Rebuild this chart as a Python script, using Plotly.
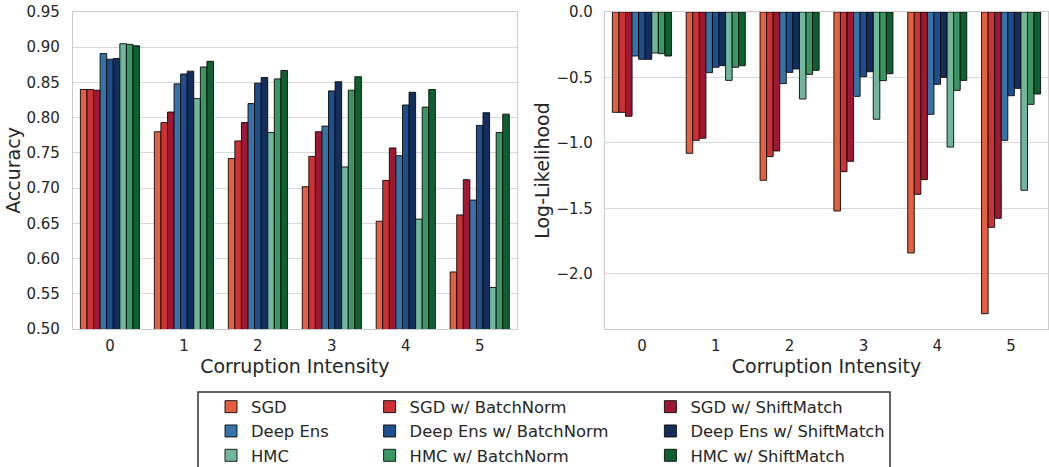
import plotly.graph_objects as go

intensities = [0, 1, 2, 3, 4, 5]
tick_labels = ["0", "1", "2", "3", "4", "5"]

methods = ["SGD", "SGD w/ BatchNorm", "SGD w/ ShiftMatch",
           "Deep Ens", "Deep Ens w/ BatchNorm", "Deep Ens w/ ShiftMatch",
           "HMC", "HMC w/ BatchNorm", "HMC w/ ShiftMatch"]
colors = ["#e5603f", "#cc3235", "#9f1733",
          "#3673a8", "#1e4e8b", "#132d5c",
          "#71b79c", "#3b9664", "#0d6131"]

# Accuracy per method, intensities 0..5
acc_sgd = [0.840, 0.780, 0.742, 0.702, 0.653, 0.581]
acc_sgd_bn = [0.840, 0.793, 0.767, 0.745, 0.711, 0.662]
acc_sgd_sm = [0.839, 0.808, 0.793, 0.780, 0.757, 0.712]
acc_de = [0.891, 0.848, 0.820, 0.788, 0.746, 0.683]
acc_de_bn = [0.883, 0.862, 0.849, 0.838, 0.818, 0.789]
acc_de_sm = [0.884, 0.866, 0.857, 0.851, 0.836, 0.807]
acc_hmc = [0.905, 0.827, 0.779, 0.730, 0.656, 0.559]
acc_hmc_bn = [0.904, 0.872, 0.855, 0.839, 0.815, 0.779]
acc_hmc_sm = [0.902, 0.880, 0.867, 0.858, 0.840, 0.805]

# Log-likelihood per method, intensities 0..5
ll_sgd = [-0.766, -1.079, -1.285, -1.519, -1.840, -2.303]
ll_sgd_bn = [-0.766, -0.980, -1.104, -1.219, -1.392, -1.644]
ll_sgd_sm = [-0.796, -0.964, -1.061, -1.140, -1.280, -1.575]
ll_de = [-0.336, -0.463, -0.547, -0.644, -0.781, -0.980]
ll_de_bn = [-0.361, -0.422, -0.461, -0.494, -0.552, -0.639]
ll_de_sm = [-0.361, -0.410, -0.435, -0.456, -0.499, -0.583]
ll_hmc = [-0.313, -0.522, -0.664, -0.819, -1.031, -1.361]
ll_hmc_bn = [-0.318, -0.422, -0.476, -0.524, -0.598, -0.705]
ll_hmc_sm = [-0.336, -0.410, -0.445, -0.471, -0.522, -0.626]

acc_series = [acc_sgd, acc_sgd_bn, acc_sgd_sm, acc_de, acc_de_bn, acc_de_sm,
              acc_hmc, acc_hmc_bn, acc_hmc_sm]
ll_series = [ll_sgd, ll_sgd_bn, ll_sgd_sm, ll_de, ll_de_bn, ll_de_sm,
             ll_hmc, ll_hmc_bn, ll_hmc_sm]

FONT = "DejaVu Sans"
TXT = "#262626"
W, H = 1049, 467
ML, MR, MT, MB = 73, 1, 12, 138
PW = W - ML - MR
PH = H - MT - MB


def px_x(px):
    return (px - ML) / PW


def px_y(py):
    return (H - MB - py) / PH


col_of = [0, 1, 2, 0, 1, 2, 0, 1, 2]
legend_names = ["legend", "legend2", "legend3"]

fig = go.Figure()
for i, name in enumerate(methods):
    line = dict(color="rgba(10,10,10,0.9)", width=1)
    fig.add_trace(go.Bar(
        x=intensities, y=acc_series[i], name=name, marker_color=colors[i],
        marker_line=line, xaxis="x", yaxis="y", offsetgroup=str(i),
        legend=legend_names[col_of[i]], legendrank=i, showlegend=True,
    ))
for i, name in enumerate(methods):
    line = dict(color="rgba(10,10,10,0.9)", width=1)
    fig.add_trace(go.Bar(
        x=intensities, y=ll_series[i], name=name, marker_color=colors[i],
        marker_line=line, xaxis="x2", yaxis="y2", offsetgroup=str(i),
        showlegend=False,
    ))

axis_common = dict(
    showline=True, mirror=True, linecolor="#cccccc", linewidth=1.2,
    ticks="", zeroline=False, automargin=False,
    tickfont=dict(family=FONT, size=15, color=TXT),
)
fig.update_layout(
    width=W, height=H,
    margin=dict(l=ML, r=MR, t=MT, b=MB, autoexpand=False),
    paper_bgcolor="white", plot_bgcolor="white",
    barmode="group", bargap=0.2, bargroupgap=0,
    font=dict(family=FONT, color=TXT),
    xaxis=dict(domain=[0, px_x(516.7)], range=[-0.5, 5.5], tickmode="array",
               tickvals=intensities, ticktext=tick_labels, showgrid=False,
               ticklabelstandoff=3,
               title=dict(text="Corruption Intensity", standoff=3,
                          font=dict(family=FONT, size=19, color=TXT)),
               anchor="y", **axis_common),
    yaxis=dict(range=[0.5, 0.95], tickmode="linear", tick0=0.5, dtick=0.05,
               tickformat=".2f", showgrid=True, gridcolor="#d9d9d9", gridwidth=1,
               ticklabelstandoff=9,
               title=dict(text="Accuracy", standoff=0,
                          font=dict(family=FONT, size=19, color=TXT)),
               anchor="x", **axis_common),
    xaxis2=dict(domain=[px_x(605), 1], range=[-0.5, 5.5], tickmode="array",
                tickvals=intensities, ticktext=tick_labels, showgrid=False,
                ticklabelstandoff=3,
                title=dict(text="Corruption Intensity", standoff=3,
                           font=dict(family=FONT, size=19, color=TXT)),
                anchor="y2", **axis_common),
    yaxis2=dict(range=[-2.42, 0], tickmode="linear", tick0=0, dtick=0.5,
                tickformat=".1f", showgrid=True, gridcolor="#d9d9d9", gridwidth=1,
                ticklabelstandoff=8,
                title=dict(text="Log-Likelihood", standoff=1,
                           font=dict(family=FONT, size=19, color=TXT)),
                anchor="x2", **axis_common),
)

leg_common = dict(orientation="v", xanchor="left", yanchor="top",
                  bgcolor="rgba(0,0,0,0)", borderwidth=0,
                  font=dict(family=FONT, size=16.4, color=TXT),
                  tracegroupgap=0, traceorder="normal")
text_starts = [253, 411.6, 692.4]
fig.update_layout(
    legend=dict(x=px_x(text_starts[0] - 42), y=px_y(389.5), **leg_common),
    legend2=dict(x=px_x(text_starts[1] - 42), y=px_y(389.5), **leg_common),
    legend3=dict(x=px_x(text_starts[2] - 42), y=px_y(389.5), **leg_common),
)
fig.add_shape(type="rect", xref="paper", yref="paper",
              x0=px_x(198), x1=px_x(890), y0=px_y(480), y1=px_y(392),
              line=dict(color="#333333", width=1.5), fillcolor="rgba(0,0,0,0)")

fig.write_html("out.html")
